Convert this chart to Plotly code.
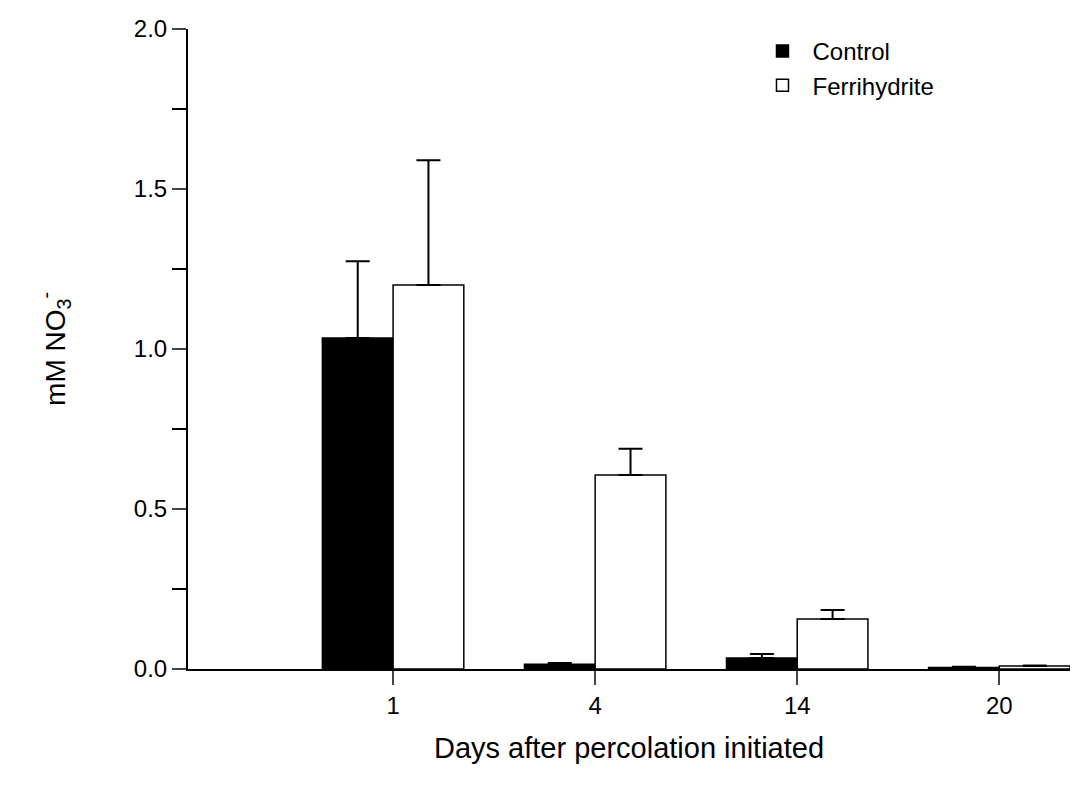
import plotly.graph_objects as go

days = ["1", "4", "14", "20"]
control = [1.034, 0.015, 0.034, 0.005]
control_err = [0.24, 0.004, 0.013, 0.002]
ferri = [1.2, 0.606, 0.156, 0.009]
ferri_err = [0.39, 0.082, 0.028, 0.002]

pos = list(range(len(days)))

fig = go.Figure()
fig.add_trace(go.Bar(x=pos, y=control, name="Control", offset=-0.35, width=0.35,
                     marker=dict(color="black", line=dict(color="black", width=1.5)),
                     error_y=dict(type="data", array=control_err, symmetric=False,
                                  arrayminus=[0]*4, color="black", thickness=2, width=12)))
fig.add_trace(go.Bar(x=pos, y=ferri, name="Ferrihydrite", offset=0, width=0.35,
                     marker=dict(color="white", line=dict(color="black", width=1.5)),
                     error_y=dict(type="data", array=ferri_err, symmetric=False,
                                  arrayminus=[0]*4, color="black", thickness=2, width=12)))

fig.update_layout(
    width=1083, height=791, plot_bgcolor="white", paper_bgcolor="white",
    margin=dict(l=180, r=21, t=21, b=130, autoexpand=False),
    font=dict(family="Liberation Sans, Arial", size=24, color="black"),
    barmode="overlay", showlegend=True,
    legend=dict(x=0.64, y=1.0, xanchor="left", yanchor="top", bgcolor="rgba(0,0,0,0)",
                font=dict(size=24), tracegroupgap=0, itemwidth=50),
    xaxis=dict(range=[-1.015, 3.35], tickvals=pos, ticktext=days, ticks="outside",
               ticklen=14, tickwidth=2, showline=True, linecolor="black", linewidth=2,
               showgrid=False, zeroline=False, tickfont=dict(size=24),
               title=dict(text="Days after percolation initiated", font=dict(size=29), standoff=20)),
    yaxis=dict(range=[0, 2.0], tickvals=[0, 0.5, 1.0, 1.5, 2.0],
               ticktext=["0.0", "0.5", "1.0", "1.5", "2.0"], ticks="outside",
               ticklen=14, tickwidth=2, showline=True, linecolor="black", linewidth=2,
               showgrid=False, zeroline=False, tickfont=dict(size=24),
               minor=dict(tickvals=[0.25, 0.75, 1.25, 1.75], ticks="outside", ticklen=14,
                          tickwidth=2, tickcolor="black"),
               title=dict(text="mM NO<sub>3</sub><sup>-</sup>", font=dict(size=28), standoff=60)),
)
fig.write_html("out.html")
